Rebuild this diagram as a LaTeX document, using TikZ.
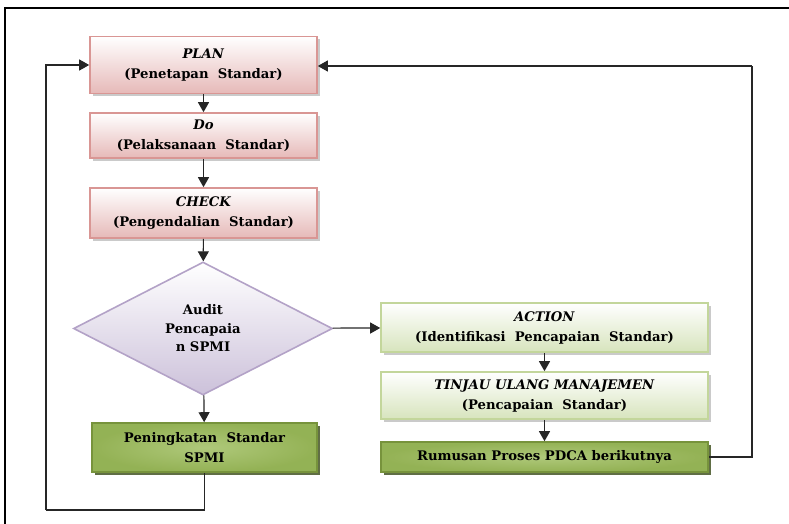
\documentclass[tikz,border=0pt]{standalone}
\usepackage{fontspec}
\setmainfont{DejaVu Serif}
\usetikzlibrary{shapes.geometric,arrows.meta,shadows}
\definecolor{pinkedge}{HTML}{D99694}
\definecolor{pinkfill}{HTML}{E6B9B8}
\definecolor{lgedge}{HTML}{C3D69B}
\definecolor{lgfill}{HTML}{D7E4BD}
\definecolor{dgedge}{HTML}{77933C}
\definecolor{dgfill}{HTML}{9BBB59}
\definecolor{lavedge}{HTML}{B3A2C7}
\definecolor{lavfill}{HTML}{CCC1DA}
\definecolor{inkline}{HTML}{262626}
\begin{document}
\begin{tikzpicture}[x=1pt,y=-1pt,
  every node/.style={font=\fontsize{13.2}{20}\selectfont\bfseries, align=center, text=black, inner sep=0pt},
  boxbase/.style={rectangle, line width=1.6pt, drop shadow={shadow xshift=3pt, shadow yshift=-3pt, fill=black!35, opacity=0.6}},
  pinkbox/.style={boxbase, draw=pinkedge, top color=white, bottom color=pinkfill, minimum width=227pt},
  lightgreen/.style={boxbase, draw=lgedge, top color=white, bottom color=lgfill, minimum width=327pt},
  darkgreen/.style={boxbase, draw=dgedge, inner color=dgfill!80, outer color=dgfill!95!black,
    drop shadow={shadow xshift=3pt, shadow yshift=-3pt, fill=dgedge!60!black, opacity=0.8}},
  decision/.style={diamond, line width=1.6pt, draw=lavedge, top color=white, bottom color=lavfill,
    minimum width=259pt, minimum height=133pt, aspect=1.95},
  flow/.style={draw=inkline, line width=1.2pt, -{Triangle[length=10pt,width=11pt]}},
  link/.style={draw=inkline, line width=1.2pt}
]
\useasboundingbox (0,0) rectangle (789,524);
% page frame (top and left edges)
\draw[line width=1.4pt] (5,524) -- (5,8) -- (789,8);

% PDCA chain on the left
\node[pinkbox, minimum height=57pt] (plan) at (203.5,65) {\textit{PLAN}\\(Penetapan~ Standar)};
\node[pinkbox, minimum height=45pt] (do) at (203.5,135.5) {\textit{Do}\\(Pelaksanaan~ Standar)};
\node[pinkbox, minimum height=50pt] (check) at (203.5,213) {\textit{CHECK}\\(Pengendalian~ Standar)};
\node[decision, font=\fontsize{13.2}{18.5}\selectfont\bfseries] (audit) at (203,328.5) {Audit\\Pencapaia\\n SPMI};
\node[darkgreen, minimum width=225pt, minimum height=49pt] (improve) at (204.5,447.5) {Peningkatan~ Standar\\SPMI};

% follow-up chain on the right
\node[lightgreen, minimum height=49pt] (action) at (544.5,327.5) {\textit{ACTION}\\(Identifikasi~ Pencapaian~ Standar)};
\node[lightgreen, minimum height=47pt] (review) at (544.5,395.5) {\textit{TINJAU ULANG MANAJEMEN}\\(Pencapaian~ Standar)};
\node[darkgreen, minimum width=327pt, minimum height=30pt] (next) at (544.5,457) {Rumusan Proses PDCA berikutnya};

% connectors
\draw[flow] (plan) -- (do);
\draw[flow] (do) -- (check);
\draw[flow] (check) -- (audit);
\draw[flow] (audit) -- (improve);
\draw[flow] (audit) -- (action);
\draw[flow] (action) -- (review);
\draw[flow] (review) -- (next);

\coordinate (loopL) at (46,510);
\coordinate (loopR) at (752,66);
\draw[link] (improve.south) -- (improve.south |- loopL) -- (loopL);
\draw[flow] (loopL) |- (plan.west);
\draw[link] (next.east) -| (loopR);
\draw[flow] (loopR) -- (plan.east |- loopR);
\end{tikzpicture}
\end{document}
